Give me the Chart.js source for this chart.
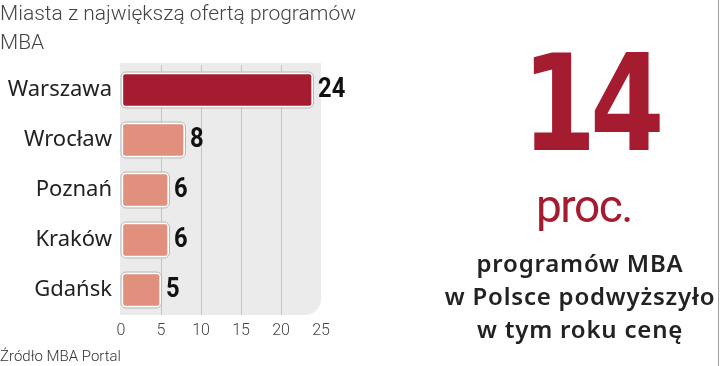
<!DOCTYPE html>
<html>
<head>
<meta charset="utf-8">
<script src="https://cdn.jsdelivr.net/npm/chart.js@4"></script>
<style>
  body { margin: 0; background: #fff; }
  #wrap { position: relative; width: 720px; height: 366px; overflow: hidden; }
  #chart { position: absolute; left: 0; top: 0; }
  .txt { position: absolute; white-space: nowrap; }
  #title { left: 0; top: -1px; font: 300 21px Roboto, sans-serif; color: #444; line-height: 29px; }
  #source { left: 0; top: 347px; font: 300 15px Roboto, sans-serif; color: #333; }
  #big { left: 440px; width: 300px; text-align: center; top: 37px; font: bold 134px "DejaVu Sans", sans-serif; color: #a51c30; letter-spacing: -8px; line-height: 134px; transform: scaleX(0.8); transform-origin: 150px 0; }
  #proc { left: 434px; width: 300px; text-align: center; top: 183px; font: 400 46px Roboto, sans-serif; color: #a51c30; letter-spacing: -1.5px; line-height: 46px; }
  #desc { left: 430px; width: 300px; text-align: center; top: 246px; font: 600 24px "Noto Sans", sans-serif; color: #222; line-height: 33px; letter-spacing: 0.8px; }
  #edge { position: absolute; left: 718px; top: 0; width: 1px; height: 366px; background: #a0a0a0; }
</style>
</head>
<body>
<div id="wrap">
  <canvas id="chart" width="720" height="366"></canvas>
  <div class="txt" id="title">Miasta z największą ofertą programów<br>MBA</div>
  <div class="txt" id="source">Źródło MBA Portal</div>
  <div class="txt" id="big">14</div>
  <div class="txt" id="proc">proc.</div>
  <div class="txt" id="desc">programów MBA<br>w Polsce podwyższyło<br>w tym roku cenę</div>
  <div id="edge"></div>
</div>
<script>
const cities = ["Warszawa", "Wrocław", "Poznań", "Kraków", "Gdańsk"];
const programs = [24, 8, 6, 6, 5];
const barColors = ["#a51c30", "#e0907c", "#e0907c", "#e0907c", "#e0907c"];
const xTicks = [0, 5, 10, 15, 20, 25];

const plotBg = {
  id: "plotBg",
  beforeDraw(chart) {
    const { ctx, chartArea: a } = chart;
    ctx.save();
    ctx.fillStyle = "#ebebeb";
    ctx.beginPath();
    ctx.roundRect(a.left - 1, a.top - 2, a.right - a.left + 1, a.bottom - a.top + 2, [0, 0, 16, 0]);
    ctx.fill();
    ctx.restore();
  }
};

const barExtras = {
  id: "barExtras",
  afterDatasetsDraw(chart) {
    const { ctx } = chart;
    const meta = chart.getDatasetMeta(0);
    ctx.save();
    meta.data.forEach((bar, i) => {
      const top = bar.y - bar.height / 2;
      ctx.strokeStyle = "#b8b8b8";
      ctx.lineWidth = 1;
      ctx.beginPath();
      ctx.roundRect(bar.base - 0.5, top - 0.5, bar.x - bar.base + 1, bar.height + 1, 5);
      ctx.stroke();
      // condensed bold value label
      ctx.save();
      ctx.translate(bar.x + 5, bar.y);
      ctx.scale(0.88, 1);
      ctx.fillStyle = "#111";
      ctx.font = "bold 27px Roboto, sans-serif";
      ctx.textBaseline = "middle";
      ctx.textAlign = "left";
      ctx.fillText(programs[i], 0, 0);
      ctx.restore();
    });
    ctx.restore();
  }
};

new Chart(document.getElementById("chart"), {
  type: "bar",
  data: {
    labels: cities,
    datasets: [{
      data: programs,
      backgroundColor: barColors,
      borderColor: "#ffffff",
      borderWidth: 2,
      borderRadius: 4,
      borderSkipped: false,
      barThickness: 35
    }]
  },
  options: {
    indexAxis: "y",
    responsive: false,
    animation: false,
    layout: { padding: { top: 65, right: 399, bottom: 0, left: 0 } },
    plugins: { legend: { display: false }, tooltip: { enabled: false } },
    scales: {
      x: {
        min: 0,
        max: 25,
        afterBuildTicks: s => { s.ticks = xTicks.map(v => ({ value: v })); },
        afterFit: s => { s.height = 51; },
        border: { display: false },
        grid: {
          drawTicks: false,
          color: c => (c.tick && (c.tick.value === 0 || c.tick.value === 25)) ? "rgba(0,0,0,0)" : "#c4c4c4"
        },
        ticks: { padding: 6, color: "#444", font: { family: "Roboto", weight: 300, size: 16 } }
      },
      y: {
        afterFit: s => { s.width = 121; },
        border: { display: false },
        grid: { display: false, drawTicks: false },
        ticks: { padding: 9, color: "#222", font: { family: "Noto Sans", size: 22 } }
      }
    }
  },
  plugins: [plotBg, barExtras]
});
</script>
</body>
</html>
